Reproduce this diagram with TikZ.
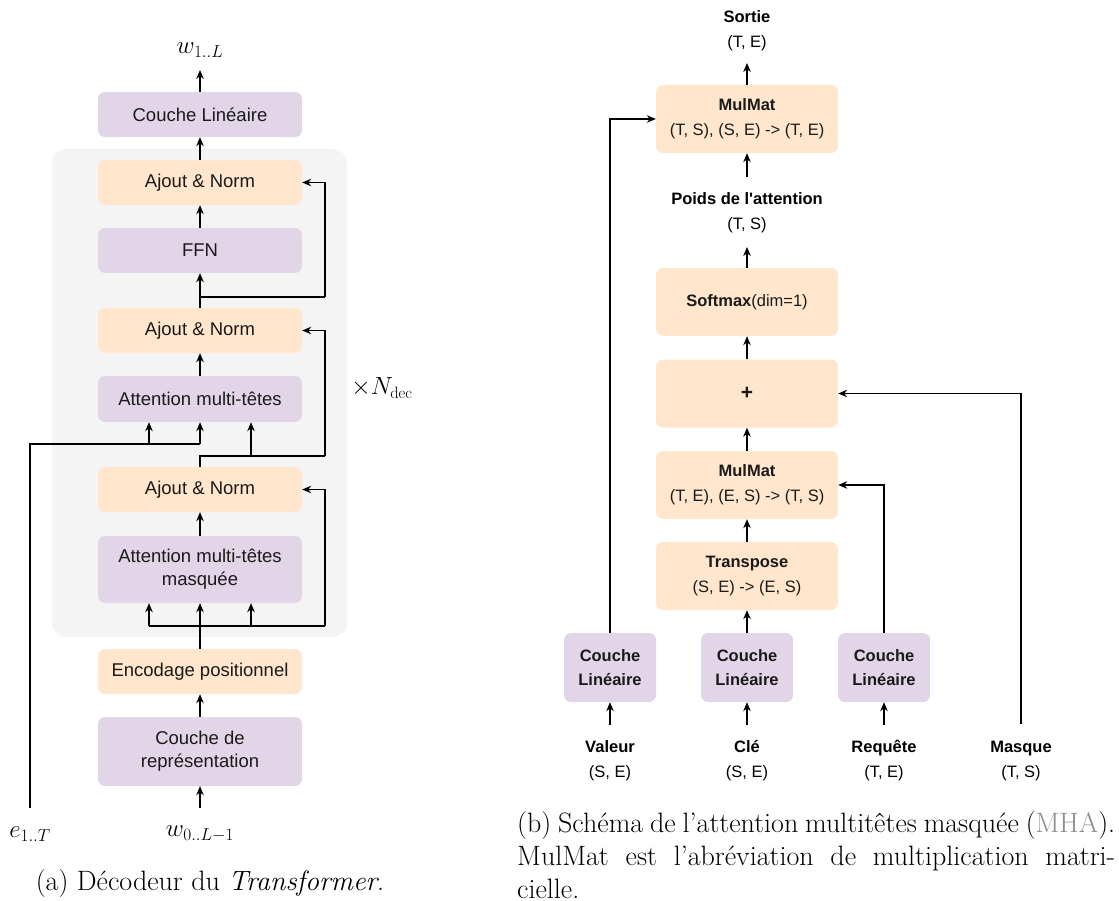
\documentclass[tikz,border=0pt]{standalone}
\usepackage{fontspec}
\newfontfamily\boxfont{Liberation Sans}
\usetikzlibrary{arrows.meta,calc}
\definecolor{lav}{HTML}{E1D5E7}
\definecolor{ora}{HTML}{FFE6CC}
\definecolor{bggray}{HTML}{F4F4F4}
\definecolor{txt}{HTML}{1A1A1A}
\definecolor{linkgray}{HTML}{8C8C8C}
\tikzset{
  blk/.style={rounded corners=7pt, draw=none, align=center, text=txt, inner sep=0pt,
    font=\boxfont\fontsize{18.5}{23}\selectfont},
  lbox/.style={blk, minimum width=204pt, minimum height=45pt},
  lav/.style={fill=lav},
  ora/.style={fill=ora},
  rbox/.style={blk, minimum width=182pt, minimum height=68pt, fill=ora,
    font=\boxfont\fontsize{16.5}{25}\selectfont},
  cbox/.style={blk, minimum width=92pt, minimum height=69pt, fill=lav,
    font=\boxfont\bfseries\fontsize{16.5}{24}\selectfont},
  rlab/.style={align=center, inner sep=0pt, text=black,
    font=\boxfont\fontsize{16.5}{25}\selectfont},
  conn/.style={line width=1.3pt, draw=black},
  arr/.style={conn, -{Stealth[length=9pt,width=7.5pt]}},
  rconn/.style={line width=1.1pt, draw=black},
  rarr/.style={rconn, -{Stealth[length=9pt,width=7.5pt]}},
  mlab/.style={inner sep=0pt, font=\fontsize{23.5}{28}\selectfont},
}
\begin{document}
\begin{tikzpicture}[x=1pt,y=-1pt]
\useasboundingbox (0,0) rectangle (1119,901);
% ---------------- left diagram ----------------
\node[fill=bggray, rounded corners=14pt, minimum width=295pt, minimum height=488pt, inner sep=0pt] (bg) at (199.5,393) {};
\node[lbox,lav] (lin) at (200,114.5) {Couche Linéaire};
\node[lbox,ora] (an1) at (200,182.5) {Ajout \& Norm};
\node[lbox,lav] (ffn) at (200,250.5) {FFN};
\node[lbox,ora] (an2) at (200,330.5) {Ajout \& Norm};
\node[lbox,lav,minimum height=46pt] (mha) at (200,399) {Attention multi-têtes};
\node[lbox,ora] (an3) at (200,489.5) {Ajout \& Norm};
\node[lbox,lav,minimum height=67pt] (mmha) at (200,569.5) {Attention multi-têtes\\masquée};
\node[lbox,ora] (pe) at (200,671.5) {Encodage positionnel};
\node[lbox,lav,minimum height=69pt] (emb) at (200,751.5) {Couche de\\représentation};

\node[mlab] (wout) at (200,50) {$w_{1..L}$};
\node[mlab] (win) at (200,834) {$w_{0..L-1}$};
\node[mlab] (ein) at (30,834) {$e_{1..T}$};
\node[mlab] (ndec) at (382,388) {$\times N_{\mathrm{dec}}$};

\coordinate (wtop) at (200,70);
\coordinate (wbot) at (200,808);
\coordinate (ebot) at (30,808);
\coordinate (ecorner) at (30,444);
\coordinate (ej) at (200,444);
\coordinate (ek) at (149,444);
\coordinate (ml) at (149,626);
\coordinate (mr) at (251,626);
\coordinate (mres) at (325,626);
\coordinate (ab) at (251,456);
\coordinate (ares) at (325,456);
\coordinate (fj) at (200,297);
\coordinate (fres) at (325,297);

\draw[arr] (lin.north) -- (wtop);
\draw[arr] (an1.north) -- (lin.south);
\draw[arr] (ffn.north) -- (an1.south);
\draw[arr] (an2.north) -- (ffn.south);
\draw[conn] (fj) -- (fres);
\draw[arr] (fres) |- (an1.east);
\draw[arr] (mha.north) -- (an2.south);
\draw[conn] (an3.north) |- (ares);
\draw[arr] (ab) -- (ab |- mha.south);
\draw[arr] (ares) |- (an2.east);
\draw[conn] (ebot) -- (ecorner) -- (ej);
\draw[arr] (ej) -- (mha.south);
\draw[arr] (ek) -- (ek |- mha.south);
\draw[arr] (mmha.north) -- (an3.south);
\draw[arr] (pe.north) -- (mmha.south);
\draw[conn] (ml) -- (mres);
\draw[arr] (ml) -- (ml |- mmha.south);
\draw[arr] (mr) -- (mr |- mmha.south);
\draw[arr] (mres) |- (an3.east);
\draw[arr] (emb.north) -- (pe.south);
\draw[arr] (wbot) -- (emb.south);

\node[inner sep=0pt, font=\fontsize{28}{33}\selectfont] (capa) at (210,884) {(a) Décodeur du \textit{Transformer}.};

% ---------------- right diagram ----------------
\node[rbox] (mm1) at (747,119) {\textbf{MulMat}\\(T, S), (S, E) -> (T, E)};
\node[rbox] (sm) at (747,302) {\textbf{Softmax}(dim=1)};
\node[rbox, font=\boxfont\bfseries\fontsize{21}{24}\selectfont] (plus) at (747,393.5) {+};
\node[rbox] (mm2) at (747,485) {\textbf{MulMat}\\(T, E), (E, S) -> (T, S)};
\node[rbox] (tr) at (747,576) {\textbf{Transpose}\\(S, E) -> (E, S)};
\node[cbox] (cv) at (610,667.5) {Couche\\Linéaire};
\node[cbox] (ck) at (747,667.5) {Couche\\Linéaire};
\node[cbox] (cq) at (884,667.5) {Couche\\Linéaire};

\node[rlab] (sortie) at (747,30.5) {\textbf{Sortie}\\(T, E)};
\node[rlab] (poids) at (747,213) {\textbf{Poids de l'attention}\\(T, S)};
\node[rlab] (valeur) at (610,761) {\textbf{Valeur}\\(S, E)};
\node[rlab] (cle) at (747,761) {\textbf{Clé}\\(S, E)};
\node[rlab] (req) at (884,761) {\textbf{Requête}\\(T, E)};
\node[rlab] (masque) at (1021,761) {\textbf{Masque}\\(T, S)};

\coordinate (stop) at (747,63);
\coordinate (pbot) at (747,177);
\coordinate (ptop) at (747,247);
\coordinate (vin) at (610,725);
\coordinate (kin) at (747,725);
\coordinate (qin) at (884,725);
\coordinate (mbot) at (1021,724);
\coordinate (vturn) at (610,119);

\draw[rarr] (mm1.north) -- (stop);
\draw[rarr] (pbot) -- (mm1.south);
\draw[rarr] (sm.north) -- (ptop);
\draw[rarr] (plus.north) -- (sm.south);
\draw[rarr] (mm2.north) -- (plus.south);
\draw[rarr] (tr.north) -- (mm2.south);
\draw[rarr] (ck.north) -- (tr.south);
\draw[rarr] (cv.north) -- (vturn) -- (mm1.west);
\draw[rarr] (cq.north) |- (mm2.east);
\draw[rarr] (mbot) |- (plus.east);
\draw[rarr] (vin) -- (cv.south);
\draw[rarr] (kin) -- (ck.south);
\draw[rarr] (qin) -- (cq.south);

\node[anchor=north west, inner sep=0pt] (capb) at (517,811)
 {\parbox[t]{598pt}{\fontsize{28}{33}\selectfont\hyphenpenalty=10000
 (b) Schéma de l'attention multitêtes masquée ({\color{linkgray}MHA}).\linebreak
 MulMat est l'abréviation de multiplication matri-\linebreak cielle.}};
\end{tikzpicture}
\end{document}
